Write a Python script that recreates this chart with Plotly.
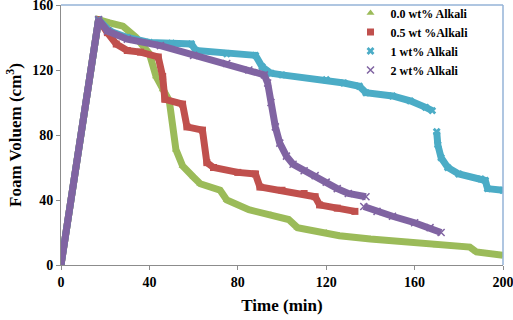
import plotly.graph_objects as go

# ---- data ----
t_00 = [0, 17, 22, 28, 34, 40, 43, 46, 49, 52, 55, 60, 63, 72, 75, 85, 95, 103, 107, 120, 126, 140, 157, 170, 185, 188, 200]
v_00 = [0, 151, 149, 147, 140, 130, 116, 108, 101, 71, 61, 54, 50, 46, 40, 34, 31, 28, 23, 20, 18, 16, 14, 12, 11, 8, 6]

t_05 = [0, 17, 21, 25, 30, 36, 44, 46, 47, 55, 57, 64, 66, 69, 80, 88, 90, 100, 110, 115, 117, 125, 133]
v_05 = [0, 151, 143, 136, 132, 131, 128, 116, 102, 99, 85, 83, 63, 60, 57, 56, 48, 46, 44, 42, 37, 35, 33]

t_1 = [0, 17, 22, 30, 40, 50, 59, 61, 75, 88, 91, 95, 100, 120, 128, 135, 138, 150, 158, 165, 168, None,
       170, 170.5, 172, 175, 180, 190, 192, 193, 200]
v_1 = [0, 151, 144, 140, 137, 136.5, 136, 132, 130, 129, 122, 118, 117, 114, 112, 110, 106, 104, 101, 97, 95, None,
       82, 74, 66, 60, 56, 53, 52, 47, 46]

t_2 = [0, 17, 21, 30, 45, 60, 75, 85, 92, 93.5, 95, 97, 99, 102, 105, 110, 115, 120, 125, 130, 138, None,
       137, 143, 150, 160, 167, 172]
v_2 = [0, 151, 144, 139, 135, 129, 124, 120, 117, 112, 100, 85, 75, 67, 62, 58, 55, 51, 47, 44, 42, None,
       36, 33, 30, 26, 23, 20]

x_ticks = [0, 40, 80, 120, 160, 200]
y_ticks = [0, 40, 80, 120, 160]

names = ["0.0 wt% Alkali", "0.5 wt %Alkali", "1 wt% Alkali", "2 wt% Alkali"]
colors = ["#9BBB59", "#C0504D", "#4BACC6", "#8064A2"]
symbols = ["triangle-up", "square", "x", "x-thin"]
series = [(t_00, v_00), (t_05, v_05), (t_1, v_1), (t_2, v_2)]

fig = go.Figure()
for (t, v), name, col, sym in zip(series, names, colors, symbols):
    fig.add_trace(go.Scatter(x=t, y=v, mode="lines", line=dict(color=col, width=7),
                             connectgaps=False, showlegend=False, hoverinfo="skip"))
    mk = dict(symbol=sym, color=col, size=7)
    if sym == "x-thin":
        mk["line"] = dict(color=col, width=1.5)
    fig.add_trace(go.Scatter(x=[p for p in t if p is not None], y=[p for p in v if p is not None],
                             mode="markers", marker=mk, name=name, showlegend=True))

serif = "Liberation Serif, Times New Roman, serif"
fig.update_layout(
    width=513, height=320,
    margin=dict(l=61, r=10, t=5, b=55, autoexpand=False),
    paper_bgcolor="white", plot_bgcolor="white",
    font=dict(family=serif, color="black"),
    showlegend=True,
    legend=dict(x=0.655, y=1.025, xanchor="left", yanchor="top",
                bgcolor="rgba(0,0,0,0)", font=dict(family=serif, size=12, color="black", weight="bold"),
                itemwidth=30),
    xaxis=dict(range=[0, 200], tickvals=x_ticks, showgrid=False, zeroline=False, automargin=False,
               showline=True, linecolor="#8C8C8C", linewidth=1, ticks="outside", ticklen=4,
               tickcolor="#8C8C8C", tickfont=dict(family=serif, size=14, weight="bold"),
               ticklabeloverflow="allow",
               title=dict(text="<b>Time (min)</b>", font=dict(family=serif, size=17), standoff=10)),
    yaxis=dict(range=[0, 160], tickvals=y_ticks, showgrid=False, zeroline=False, automargin=False,
               showline=True, linecolor="#8C8C8C", linewidth=1, ticks="outside", ticklen=4,
               tickcolor="#8C8C8C", tickfont=dict(family=serif, size=14, weight="bold"),
               ticklabeloverflow="allow",
               title=dict(text="<b>Foam Voluem (cm<sup>3</sup>)</b>", font=dict(family=serif, size=17), standoff=6)),
    shapes=[
        dict(type="line", xref="paper", yref="paper", x0=0, x1=1, y0=1, y1=1,
             line=dict(color="#95B3D7", width=1.5)),
        dict(type="line", xref="paper", yref="paper", x0=1, x1=1, y0=0, y1=1,
             line=dict(color="#95B3D7", width=1.5)),
    ],
)

fig.write_html("out.html", config={"displayModeBar": False},
               post_script="document.body.style.margin='0';document.body.style.overflow='hidden';")
